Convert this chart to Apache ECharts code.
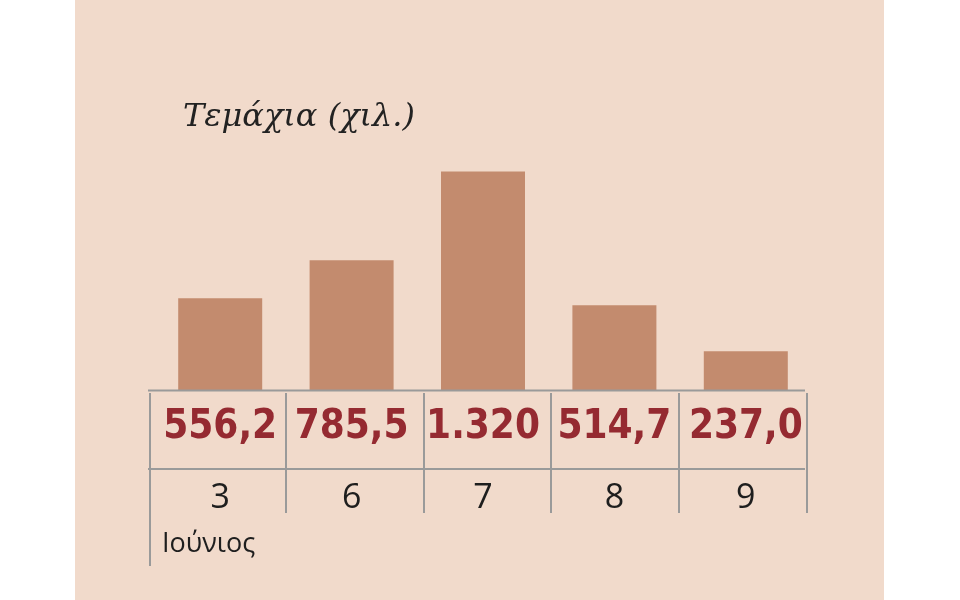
<!DOCTYPE html>
<html>
<head>
<meta charset="utf-8">
<script src="https://cdn.jsdelivr.net/npm/echarts@6/dist/echarts.min.js"></script>
<style>
html,body{margin:0;padding:0;background:#fff;}
#chart{width:960px;height:600px;background:linear-gradient(to right,#ffffff 0,#ffffff 75px,#f1dacb 75px,#f1dacb 884px,#ffffff 884px);}
</style>
</head>
<body>
<div id="chart"></div>
<script>
const title = 'Τεμάχια (χιλ.)';
const categories = ['3', '6', '7', '8', '9'];
const values = [556.2, 785.5, 1320, 514.7, 237.0];
const valueLabels = ['556,2', '785,5', '1.320', '514,7', '237,0'];
const monthLabel = 'Ιούνιος';

const chart = echarts.init(document.getElementById('chart'));
const lineColor = '#9a9a9a';
chart.setOption({
  backgroundColor: 'transparent',
  animation: false,
  title: {
    text: title,
    left: 178, top: 97,
    textStyle: {fontFamily: 'DejaVu Serif', fontStyle: 'italic', fontWeight: 'normal', fontSize: 32, color: '#222'}
  },
  grid: {left: 154.5, right: 148.5, top: 92, bottom: 209.5},
  xAxis: {
    type: 'category',
    data: categories,
    axisLine: {show: false},
    axisTick: {show: false},
    axisLabel: {
      margin: 0,
      interval: 0,
      formatter: function (v, i) { return '{v|' + valueLabels[i] + '}\n{c|' + v + '}'; },
      rich: {
        v: {fontFamily: 'DejaVu Sans Condensed, sans-serif', fontWeight: 'bold', fontSize: 40, color: '#952a31', lineHeight: 74, align: 'center'},
        c: {fontFamily: 'Open Sans, sans-serif', fontWeight: 'normal', fontSize: 34, color: '#1e1e1e', lineHeight: 68, align: 'center'}
      }
    }
  },
  yAxis: {type: 'value', min: 0, max: 1800, show: false, splitLine: {show: false}},
  series: [{
    type: 'bar',
    data: values,
    barWidth: 84,
    itemStyle: {color: '#c38b6e'},
    z: 1
  }],
  graphic: [
    {type: 'line', shape: {x1: 148, y1: 390.5, x2: 805, y2: 390.5}, style: {stroke: lineColor, lineWidth: 2}, z: 10},
    {type: 'line', shape: {x1: 148, y1: 469, x2: 805, y2: 469}, style: {stroke: lineColor, lineWidth: 2}, z: 10},
    {type: 'line', shape: {x1: 150, y1: 393, x2: 150, y2: 566}, style: {stroke: lineColor, lineWidth: 2}, z: 10},
    {type: 'line', shape: {x1: 286, y1: 393, x2: 286, y2: 513}, style: {stroke: lineColor, lineWidth: 2}, z: 10},
    {type: 'line', shape: {x1: 424, y1: 393, x2: 424, y2: 513}, style: {stroke: lineColor, lineWidth: 2}, z: 10},
    {type: 'line', shape: {x1: 551, y1: 393, x2: 551, y2: 513}, style: {stroke: lineColor, lineWidth: 2}, z: 10},
    {type: 'line', shape: {x1: 679, y1: 393, x2: 679, y2: 513}, style: {stroke: lineColor, lineWidth: 2}, z: 10},
    {type: 'line', shape: {x1: 807, y1: 393, x2: 807, y2: 513}, style: {stroke: lineColor, lineWidth: 2}, z: 10},
    {type: 'text', left: 162, top: 531, style: {text: monthLabel, fontFamily: 'Open Sans, sans-serif', fontWeight: 'normal', fontSize: 27, fill: '#1e1e1e'}}
  ]
});
</script>
</body>
</html>
